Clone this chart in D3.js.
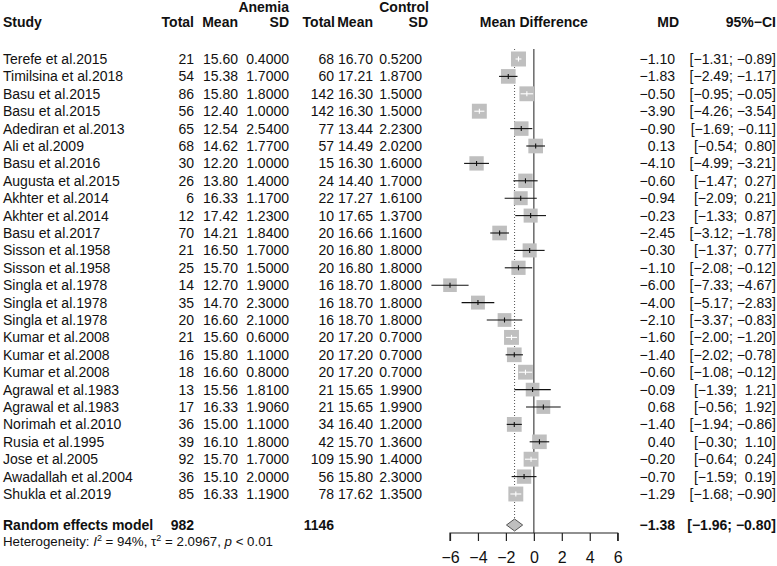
<!DOCTYPE html>
<html><head><meta charset="utf-8">
<script src="https://cdn.jsdelivr.net/npm/d3@7"></script>
<style>body{margin:0;background:#fff}svg{font-family:"Liberation Sans",Arial,sans-serif}</style>
</head><body><svg id="c" width="777" height="566"></svg>
<script>
const studies=["Terefe et al.2015","Timilsina et al.2018","Basu et al.2015","Basu et al.2015","Adediran et al.2013","Ali et al.2009","Basu et al.2016","Augusta et al.2015","Akhter et al.2014","Akhter et al.2014","Basu et al.2017","Sisson et al.1958","Sisson et al.1958","Singla et al.1978","Singla et al.1978","Singla et al.1978","Kumar et al.2008","Kumar et al.2008","Kumar et al.2008","Agrawal et al.1983","Agrawal et al.1983","Norimah et al.2010","Rusia et al.1995","Jose et al.2005","Awadallah et al.2004","Shukla et al.2019"];
const nAnemia=[21,54,86,56,65,68,30,26,6,12,70,21,25,14,35,20,21,16,18,13,17,36,39,92,36,85];
const meanAnemia=[15.60,15.38,15.80,12.40,12.54,14.62,12.20,13.80,16.33,17.42,14.21,16.50,15.70,12.70,14.70,16.60,15.60,15.80,16.60,15.56,16.33,15.00,16.10,15.70,15.10,16.33];
const sdAnemia=[0.4,1.7,1.8,1.0,2.54,1.77,1.0,1.4,1.17,1.23,1.84,1.7,1.5,1.9,2.3,2.1,0.6,1.1,0.8,1.81,1.906,1.1,1.8,1.7,2.0,1.19];
const nControl=[68,60,142,142,77,57,15,24,22,10,20,20,20,16,16,16,20,20,20,21,21,34,42,109,56,78];
const meanControl=[16.70,17.21,16.30,16.30,13.44,14.49,16.30,14.40,17.27,17.65,16.66,16.80,16.80,18.70,18.70,18.70,17.20,17.20,17.20,15.65,15.65,16.40,15.70,15.90,15.80,17.62];
const sdControl=[0.52,1.87,1.5,1.5,2.23,2.02,1.6,1.7,1.61,1.37,1.16,1.8,1.8,1.8,1.8,1.8,0.7,0.7,0.7,1.99,1.99,1.2,1.36,1.4,2.3,1.35];
const md=[-1.10,-1.83,-0.50,-3.90,-0.90,0.13,-4.10,-0.60,-0.94,-0.23,-2.45,-0.30,-1.10,-6.00,-4.00,-2.10,-1.60,-1.40,-0.60,-0.09,0.68,-1.40,0.40,-0.20,-0.70,-1.29];
const ciLow=[-1.31,-2.49,-0.95,-4.26,-1.69,-0.54,-4.99,-1.47,-2.09,-1.33,-3.12,-1.37,-2.08,-7.33,-5.17,-3.37,-2.00,-2.02,-1.08,-1.39,-0.56,-1.94,-0.30,-0.64,-1.59,-1.68];
const ciHigh=[-0.89,-1.17,-0.05,-3.54,-0.11,0.80,-3.21,0.27,0.21,0.87,-1.78,0.77,-0.12,-4.67,-2.83,-0.83,-1.20,-0.78,-0.12,1.21,1.92,-0.86,1.10,0.24,0.19,-0.90];
const pooled={md:-1.38,low:-1.96,high:-0.80,nA:982,nC:1146};
const tau2=2.0967;
const axisTicks=[-6,-4,-2,0,2,4,6];

const svg=d3.select("#c");
const FS=14;
const x=d3.scaleLinear().domain([-6,6]).range([450,617.7]);
const y=d3.scalePoint().domain(d3.range(studies.length)).range([59,494]);
const fmt=(v,d)=>v.toFixed(d).replace("-","\u2212");
const txt=(xx,yy,s,anchor,bold)=>svg.append("text").attr("x",xx).attr("y",yy).attr("text-anchor",anchor||"start")
  .attr("font-size",FS).attr("font-weight",bold?"bold":"normal").attr("fill","#111").style("white-space","pre").text(s);

// headers
txt(289,11.5,"Anemia","end",true);
txt(429,11.5,"Control","end",true);
txt(3,27,"Study","start",true);
txt(194,27,"Total","end",true);
txt(238,27,"Mean","end",true);
txt(289,27,"SD","end",true);
txt(335,27,"Total","end",true);
txt(373,27,"Mean","end",true);
txt(428,27,"SD","end",true);
txt(x(0),27,"Mean Difference","middle",true);
txt(679,27,"MD","end",true);
txt(776,27,"95%\u2212CI","end",true);

// rows
studies.forEach((s,i)=>{
  const by=y(i)+5;
  txt(3,by,s);
  txt(194,by,String(nAnemia[i]),"end");
  txt(238,by,meanAnemia[i].toFixed(2),"end");
  txt(289,by,sdAnemia[i].toFixed(4),"end");
  txt(334,by,String(nControl[i]),"end");
  txt(373,by,meanControl[i].toFixed(2),"end");
  txt(422,by,sdControl[i].toFixed(4),"end");
  txt(675,by,fmt(md[i],2),"end");
  const hi=(ciHigh[i]>=0?" ":"")+fmt(ciHigh[i],2);
  const lo=(ciLow[i]>=0?" ":"")+fmt(ciLow[i],2);
  txt(776,by,"["+lo+"; "+hi+"]","end");
});

// reference lines
const yTop=49, yAxis=533, yDiam=525;
svg.append("line").attr("x1",x(pooled.md)).attr("x2",x(pooled.md)).attr("y1",yTop).attr("y2",yDiam-6)
  .attr("stroke","#555").attr("stroke-width",1).attr("stroke-dasharray","1,2");
svg.append("line").attr("x1",x(0)).attr("x2",x(0)).attr("y1",yTop).attr("y2",yAxis)
  .attr("stroke","#444").attr("stroke-width",1.2);

// squares sized by random-effects weight
const w=md.map((m,i)=>{const se=(ciHigh[i]-ciLow[i])/(2*1.96);return 1/(se*se+tau2);});
const wmax=d3.max(w);
const size=d3.scaleSqrt().domain([0,wmax]).range([0,15]);
studies.forEach((s,i)=>{
  const cy=y(i), sz=size(w[i]);
  svg.append("rect").attr("x",x(md[i])-sz/2).attr("y",cy-sz/2).attr("width",sz).attr("height",sz).attr("fill","#bfbfbf");
  const inside=(x(ciHigh[i])-x(ciLow[i]))<sz;
  const col=inside?"#fff":"#111";
  svg.append("line").attr("x1",x(ciLow[i])).attr("x2",x(ciHigh[i])).attr("y1",cy).attr("y2",cy).attr("stroke",col).attr("stroke-width",1.1);
  svg.append("line").attr("x1",x(md[i])).attr("x2",x(md[i])).attr("y1",cy-2.5).attr("y2",cy+2.5).attr("stroke",col).attr("stroke-width",1.1);
});

// pooled
const ry=530;
txt(3,ry,"Random effects model","start",true);
txt(194,ry,String(pooled.nA),"end",true);
txt(334,ry,String(pooled.nC),"end",true);
txt(675,ry,fmt(pooled.md,2),"end",true);
txt(776,ry,"["+fmt(pooled.low,2)+"; "+fmt(pooled.high,2)+"]","end",true);
svg.append("polygon").attr("points",[[x(pooled.low),yDiam],[x(pooled.md),yDiam-6],[x(pooled.high),yDiam],[x(pooled.md),yDiam+6]].map(p=>p.join(",")).join(" "))
  .attr("fill","#bfbfbf").attr("stroke","#555").attr("stroke-width",1);

// heterogeneity
const het=svg.append("text").attr("x",3).attr("y",546).attr("font-size",13.3).attr("fill","#111").style("white-space","pre");
het.append("tspan").text("Heterogeneity: ");
het.append("tspan").attr("font-style","italic").text("I");
het.append("tspan").attr("font-size",9).attr("dy",-5).text("2");
het.append("tspan").attr("dy",5).text(" = 94%, \u03c4");
het.append("tspan").attr("font-size",9).attr("dy",-5).text("2");
het.append("tspan").attr("dy",5).text(" = 2.0967, ");
het.append("tspan").attr("font-style","italic").text("p");
het.append("tspan").text(" < 0.01");

// axis
const ax=svg.append("g").attr("transform",`translate(0,${yAxis})`)
  .call(d3.axisBottom(x).tickValues(axisTicks).tickSize(8).tickPadding(10.5).tickFormat(d=>fmt(d,0)));
ax.select(".domain").attr("stroke","#222").attr("stroke-width",1.2);
ax.selectAll(".tick line").attr("stroke","#222").attr("stroke-width",1.2);
ax.selectAll(".tick text").attr("font-size",16).attr("fill","#111").attr("font-family","Liberation Sans, Arial, sans-serif");
ax.select(".domain").attr("d",`M${x(-6)},8V0H${x(6)}V8`);
</script></body></html>
